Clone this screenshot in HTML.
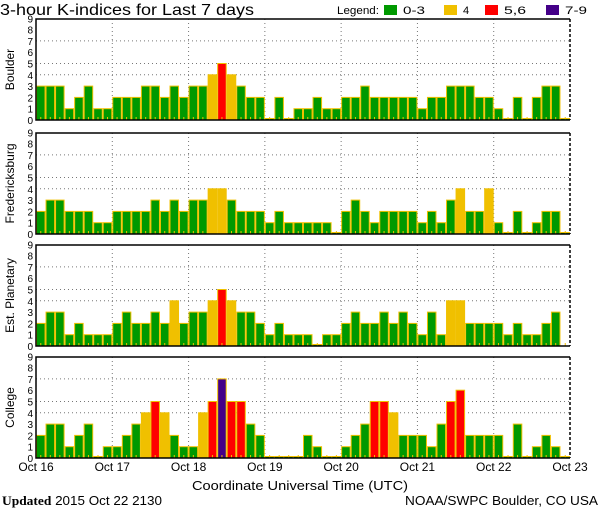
<!DOCTYPE html>
<html><head><meta charset="utf-8"><style>
body{margin:0;background:#fff;width:600px;height:510px;overflow:hidden}
svg{display:block;font-family:"Liberation Sans",sans-serif}
</style></head><body>
<svg id="c" width="600" height="510">
<text x="0" y="15" font-size="16" textLength="254" lengthAdjust="spacingAndGlyphs">3-hour K-indices for Last 7 days</text>
<g font-size="11">
<text x="337" y="14" textLength="42" lengthAdjust="spacingAndGlyphs">Legend:</text>
<rect x="384" y="5" width="13" height="10" fill="#009900"/><text x="403" y="14" textLength="22" lengthAdjust="spacingAndGlyphs">0-3</text>
<rect x="444" y="5" width="13" height="10" fill="#f0c000"/><text x="463" y="14">4</text>
<rect x="485" y="5" width="13" height="10" fill="#ff0000"/><text x="504" y="14" textLength="22" lengthAdjust="spacingAndGlyphs">5,6</text>
<rect x="546" y="5" width="13" height="10" fill="#440088"/><text x="565" y="14" textLength="22" lengthAdjust="spacingAndGlyphs">7-9</text>
</g>
<text x="192" y="490" font-size="13" textLength="216" lengthAdjust="spacingAndGlyphs">Coordinate Universal Time (UTC)</text>
<text x="2" y="505" font-size="13" textLength="160" lengthAdjust="spacingAndGlyphs"><tspan font-weight="bold" font-family="Liberation Serif">Updated</tspan> 2015 Oct 22 2130</text>
<text x="405" y="505" font-size="13" textLength="193" lengthAdjust="spacingAndGlyphs">NOAA/SWPC Boulder, CO USA</text>
</svg>
<script>
const days = ["Oct 16","Oct 17","Oct 18","Oct 19","Oct 20","Oct 21","Oct 22","Oct 23"];
const stations = ["Boulder","Fredericksburg","Est. Planetary","College"];
const boulder = [3,3,3,1,2,3,1,1, 2,2,2,3,3,2,3,2, 3,3,4,5,4,3,2,2, 0,2,0,1,1,2,1,1, 2,2,3,2,2,2,2,2, 1,2,2,3,3,3,2,2, 1,0,2,0,2,3,3,0];
const fredericksburg = [2,3,3,2,2,2,1,1, 2,2,2,2,3,2,3,2, 3,3,4,4,3,2,2,2, 1,2,1,1,1,1,1,0, 2,3,2,1,2,2,2,2, 1,2,1,3,4,2,2,4, 1,0,2,0,1,2,2,0];
const planetary = [2,3,3,1,2,1,1,1, 2,3,2,2,3,2,4,2, 3,3,4,5,4,3,3,2, 1,2,1,1,1,0,1,1, 2,3,2,2,3,2,3,2, 1,3,1,4,4,2,2,2, 2,1,2,1,1,2,3,null];
const college = [2,3,3,1,2,3,0,1, 1,2,3,4,5,4,2,1, 1,4,5,7,5,5,3,2, 0,0,0,0,2,1,0,0, 1,2,3,5,5,4,2,2, 2,1,3,5,6,2,2,2, 2,0,3,0,1,2,1,0];
const yTicks = [0,1,2,3,4,5,6,7,8,9];
const gridLevels = [4,5,7];
const series = [boulder, fredericksburg, planetary, college];

const NS="http://www.w3.org/2000/svg";
const svg=document.getElementById('c');
const X0=36, X1=570, nBars=56;
const panels=[{b:120},{b:234},{b:346},{b:458}];
const unit=11.3, PH=101;
const xs=i=>X0+i*(X1-X0)/nBars;
function mk(t,a,p){const e=document.createElementNS(NS,t);for(const k in a)e.setAttribute(k,a[k]);(p||svg).appendChild(e);return e;}
function color(v){return v<=3?'#009900':v==4?'#f0c000':v<=6?'#ff0000':'#440088';}
series.forEach((data,pi)=>{
  const bot=panels[pi].b, top=bot-PH;
  const ys=v=>bot-v*unit;
  const g=mk('g',{});
  
  
  gridLevels.forEach(l=>{const ln=mk('line',{x1:X0,x2:X1,y1:ys(l),y2:ys(l),stroke:'#777','stroke-dasharray':'1,3'},g);
    });
  for(let d=1;d<7;d++){const x=xs(d*8);const ln=mk('line',{x1:x,x2:x,y1:top,y2:bot,stroke:'#777','stroke-dasharray':'1,3'},g);
    }
  data.forEach((v,i)=>{
    const x=xs(i),w=xs(i+1)-x;
    if(v!==null){
      const h=Math.max(v*unit,1.5);
      const r=mk('rect',{x:x+0.5,y:bot-h,width:w-1,height:h,fill:color(v),stroke:'#f0c000','stroke-width':1},g);
      
      
    }
    mk('rect',{x:x+w/2-0.5,y:bot-3,width:1,height:3,fill:'#f0c000'},g);
  });
  const fr=mk('path',{d:`M${X1},${top} L${X0},${top} L${X0},${bot} L${X1},${bot}`,fill:'none',stroke:'#000','stroke-width':1.5},g);
  
  mk('line',{x1:X1,x2:X1,y1:top,y2:bot,stroke:'#000','stroke-width':1.5,'stroke-dasharray':'3,2'},g);
  yTicks.forEach(t=>{const tx=mk('text',{x:33,y:ys(t)+4,'font-size':10,'text-anchor':'end'},g);tx.textContent=t;
    });
  const cy=(top+bot)/2;
  const yt=mk('text',{x:0,y:0,'font-size':12,'text-anchor':'middle',transform:`translate(14,${cy}) rotate(-90)`},g);
  yt.textContent=stations[pi];
  
  
});
days.forEach((d,i)=>{const t=mk('text',{x:xs(i*8),y:471,'font-size':12,'text-anchor':'middle'});t.textContent=d;
  
  });
</script>
</body></html>
